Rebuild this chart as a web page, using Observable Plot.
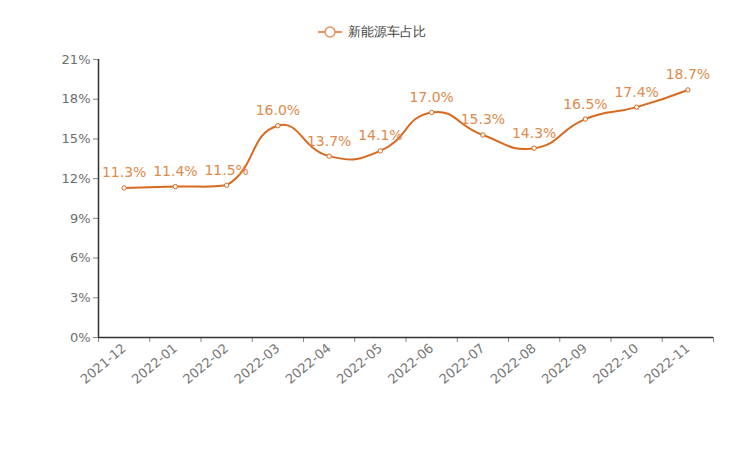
<!DOCTYPE html>
<html>
<head>
<meta charset="utf-8">
<script src="https://cdn.jsdelivr.net/npm/d3@7"></script>
<script src="https://cdn.jsdelivr.net/npm/@observablehq/plot@0.6"></script>
<style>
  body { margin: 0; background: #fff; font-family: "DejaVu Sans", sans-serif; }
  #legend { height: 50px; display: flex; align-items: center; justify-content: center; padding-top: 14px; box-sizing: border-box; font-size: 13px; color: #444; }
  #legend svg { margin-right: 6px; }
</style>
</head>
<body>
<div id="legend"><svg width="24" height="14"><line x1="0" y1="7" x2="24" y2="7" stroke="#e8915a" stroke-width="2"/><circle cx="12" cy="7" r="5" fill="#fff" stroke="#e8915a" stroke-width="1.5"/></svg><span>新能源车占比</span></div>
<div id="chart"></div>
<script>
const months = ["2021-12","2022-01","2022-02","2022-03","2022-04","2022-05","2022-06","2022-07","2022-08","2022-09","2022-10","2022-11"];
const shares = [11.3, 11.4, 11.5, 16.0, 13.7, 14.1, 17.0, 15.3, 14.3, 16.5, 17.4, 18.7];
const yTicks = [0, 3, 6, 9, 12, 15, 18, 21];

const data = months.map((m, i) => ({i, month: m, value: shares[i]}));
const boundaries = d3.range(months.length + 1).map(k => k - 0.5);

const lineColor = "#d8691f";
const labelColor = "#e08a4c";

// ECharts-style smooth bezier curve (smooth = 0.5, constrained to bounding box)
function SmoothCurve(context) { this._context = context; }
SmoothCurve.prototype = {
  areaStart() {}, areaEnd() {},
  lineStart() { this._pts = []; },
  point(x, y) { this._pts.push([+x, +y]); },
  lineEnd() {
    const p = this._pts, n = p.length, ctx = this._context, s = 0.5;
    if (!n) return;
    const xs = p.map(d => d[0]), ys = p.map(d => d[1]);
    const minX = Math.min(...xs), maxX = Math.max(...xs), minY = Math.min(...ys), maxY = Math.max(...ys);
    const clamp = (v, a, b) => Math.max(a, Math.min(b, v));
    const cps = [];
    for (let i = 0; i < n; i++) {
      if (i === 0 || i === n - 1) { cps.push(p[i].slice()); continue; }
      const prev = p[i - 1], next = p[i + 1], cur = p[i];
      const vx = (next[0] - prev[0]) * s, vy = (next[1] - prev[1]) * s;
      let d0 = Math.hypot(cur[0] - prev[0], cur[1] - prev[1]);
      let d1 = Math.hypot(cur[0] - next[0], cur[1] - next[1]);
      const sum = d0 + d1;
      if (sum) { d0 /= sum; d1 /= sum; }
      const c0 = [clamp(cur[0] - vx * d0, minX, maxX), clamp(cur[1] - vy * d0, minY, maxY)];
      const c1 = [clamp(cur[0] + vx * d1, minX, maxX), clamp(cur[1] + vy * d1, minY, maxY)];
      cps.push(c0, c1);
    }
    ctx.moveTo(p[0][0], p[0][1]);
    for (let i = 0; i < n - 1; i++) {
      const a = cps[2 * i], b = cps[2 * i + 1];
      ctx.bezierCurveTo(a[0], a[1], b[0], b[1], p[i + 1][0], p[i + 1][1]);
    }
  }
};
const curveSmooth = ctx => new SmoothCurve(ctx);

const chart = Plot.plot({
  width: 744,
  height: 416,
  marginLeft: 98,
  marginRight: 31,
  marginTop: 9,
  marginBottom: 129,
  style: {fontFamily: "DejaVu Sans, sans-serif", fontSize: "13px", background: "#fff"},
  x: {type: "linear", domain: [-0.5, months.length - 0.5]},
  y: {domain: [0, 21]},
  marks: [
    Plot.axisY({ticks: yTicks, tickFormat: d => d + "%", tickSize: 5, tickPadding: 3, color: "#6e6e6e", stroke: "#888", label: null, fontSize: 13}),
    Plot.axisX({ticks: boundaries, tickFormat: () => "", tickSize: 5, stroke: "#888", label: null}),
    Plot.axisX({ticks: d3.range(months.length), tickFormat: i => months[i], tickSize: 0, tickPadding: 9, tickRotate: -40, color: "#777", label: null, fontSize: 13}),
    Plot.ruleY([0], {stroke: "#333", strokeWidth: 1.5}),
    Plot.ruleX([-0.5], {y1: 0, y2: 21, stroke: "#333", strokeWidth: 1.5}),
    Plot.line(data, {x: "i", y: "value", stroke: lineColor, strokeWidth: 2, curve: curveSmooth}),
    Plot.dot(data, {x: "i", y: "value", r: 2.2, fill: "#fff", stroke: lineColor, strokeWidth: 1}),
    Plot.text(data, {x: "i", y: "value", text: d => d.value.toFixed(1) + "%", dy: -15, fill: labelColor, fontSize: 14, fontWeight: 500})
  ]
});
document.getElementById("chart").appendChild(chart);
</script>
</body>
</html>
